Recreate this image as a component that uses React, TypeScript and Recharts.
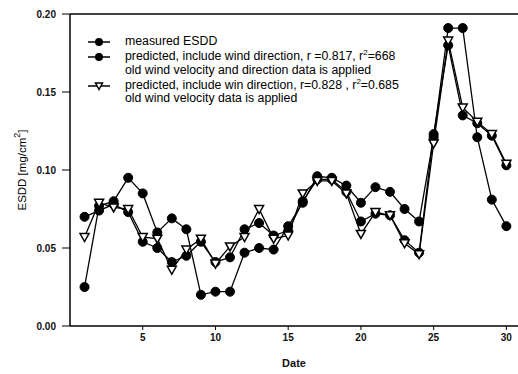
import { LineChart, Line, XAxis, YAxis, Legend, ReferenceLine } from 'recharts';

const dates = [1, 2, 3, 4, 5, 6, 7, 8, 9, 10, 11, 12, 13, 14, 15, 16, 17, 18, 19, 20, 21, 22, 23, 24, 25, 26, 27, 28, 29, 30];
const measured = [0.025, 0.077, 0.080, 0.095, 0.085, 0.060, 0.069, 0.062, 0.020, 0.022, 0.022, 0.047, 0.050, 0.049, 0.064, 0.079, 0.096, 0.095, 0.090, 0.079, 0.089, 0.086, 0.075, 0.067, 0.121, 0.191, 0.191, 0.121, 0.081, 0.064];
const predWithDir = [0.070, 0.074, 0.078, 0.073, 0.054, 0.050, 0.041, 0.045, 0.054, 0.041, 0.044, 0.062, 0.066, 0.058, 0.061, 0.080, 0.094, 0.094, 0.086, 0.067, 0.072, 0.071, 0.055, 0.047, 0.123, 0.180, 0.135, 0.130, 0.122, 0.103];
const predVelocity = [0.057, 0.079, 0.076, 0.075, 0.057, 0.056, 0.036, 0.049, 0.056, 0.040, 0.051, 0.057, 0.075, 0.056, 0.058, 0.085, 0.093, 0.093, 0.085, 0.059, 0.073, 0.071, 0.053, 0.046, 0.117, 0.183, 0.140, 0.131, 0.123, 0.104];
const xTicks = [5, 10, 15, 20, 25, 30];
const yTicks = [0, 0.05, 0.1, 0.15, 0.2];

const data = dates.map((d, i) => ({
  date: d,
  measured: measured[i],
  predWithDir: predWithDir[i],
  predVelocity: predVelocity[i],
}));

const FONT = '"Liberation Sans", Arial, sans-serif';

const CircleDot = (props: any) => {
  const { cx, cy } = props;
  if (cx == null || cy == null) return null;
  return <circle cx={cx} cy={cy} r={4.5} fill="#000" stroke="#000" />;
};

const TriangleDot = (props: any) => {
  const { cx, cy } = props;
  if (cx == null || cy == null) return null;
  return (
    <path
      d={`M${cx - 4.5},${cy - 3.5} L${cx + 4.5},${cy - 3.5} L${cx},${cy + 4.5} Z`}
      fill="#fff"
      stroke="#000"
      strokeWidth={1.5}
    />
  );
};

const Icon = ({ tri }: { tri?: boolean }) => (
  <svg width={22} height={12} style={{ flex: 'none', marginTop: 1 }}>
    <line x1={0} y1={6} x2={22} y2={6} stroke="#000" strokeWidth={1.5} />
    {tri ? (
      <path d="M7.5,3 L14.5,3 L11,9.5 Z" fill="#fff" stroke="#000" strokeWidth={1.5} />
    ) : (
      <circle cx={11} cy={6} r={4} fill="#000" />
    )}
  </svg>
);

const LegendBox = () => {
  const row = { display: 'flex', alignItems: 'flex-start', marginBottom: 1.5 };
  const txt = { marginLeft: 15, whiteSpace: 'nowrap' as const };
  return (
    <div style={{ fontFamily: FONT, fontSize: 12.3, lineHeight: '13.5px', color: '#000' }}>
      <div style={row}>
        <Icon />
        <span style={txt}>measured ESDD</span>
      </div>
      <div style={row}>
        <Icon />
        <span style={txt}>
          predicted, include wind direction, r =0.817, r<sup style={{ fontSize: 8, lineHeight: 0 }}>2</sup>=668
          <br />
          old wind velocity and direction data is applied
        </span>
      </div>
      <div style={row}>
        <Icon tri />
        <span style={txt}>
          predicted, include win direction, r=0.828 , r<sup style={{ fontSize: 8, lineHeight: 0 }}>2</sup>=0.685
          <br />
          old wind velocity data is applied
        </span>
      </div>
    </div>
  );
};

const YLabel = () => (
  <text
    x={22}
    y={170}
    transform="rotate(-90 22 170)"
    textAnchor="middle"
    dominantBaseline="central"
    fontFamily={FONT}
    fontSize={11.5}
    fill="#000"
  >
    ESDD [mg/cm
    <tspan dy={-5} fontSize={9}>2</tspan>
    <tspan dy={5}>]</tspan>
  </text>
);

export default function App() {
  const tick = { fontFamily: FONT, fontSize: 10, fontWeight: 'bold', fill: '#111' };
  return (
    <div style={{ position: 'absolute', left: 0, top: 0, width: 518, height: 374, overflow: 'hidden', background: '#fff' }}>
      <LineChart width={518} height={374} data={data} margin={{ top: 14, right: 0, bottom: 0, left: 0 }}>
        <XAxis
          type="number"
          dataKey="date"
          domain={[0, 30.8]}
          ticks={xTicks}
          allowDataOverflow
          height={48}
          tickSize={4}
          tickMargin={4}
          tick={tick}
          axisLine={{ stroke: '#000', strokeWidth: 1.5 }}
          tickLine={{ stroke: '#000' }}
          label={{ value: 'Date', position: 'insideBottom', offset: 7, style: { fontFamily: FONT, fontSize: 11, fontWeight: 'bold', fill: '#111' } }}
        />
        <YAxis
          type="number"
          domain={[0, 0.2]}
          ticks={yTicks}
          width={70}
          tickSize={8}
          tickMargin={6}
          tick={tick}
          tickFormatter={(v: number) => v.toFixed(2)}
          axisLine={{ stroke: '#000', strokeWidth: 1.5 }}
          tickLine={{ stroke: '#000' }}
          label={{ content: <YLabel /> }}
        />
        <ReferenceLine y={0.2} stroke="#000" strokeWidth={1.5} />
        <Legend
          layout="vertical"
          align="center"
          verticalAlign="middle"
          content={<LegendBox />}
          wrapperStyle={{ top: 35, left: 88, width: 'auto' }}
        />
        <Line dataKey="measured" stroke="#000" strokeWidth={1.3} dot={<CircleDot />} isAnimationActive={false} />
        <Line dataKey="predWithDir" stroke="#000" strokeWidth={1.3} dot={<CircleDot />} isAnimationActive={false} />
        <Line dataKey="predVelocity" stroke="#000" strokeWidth={1.3} dot={<TriangleDot />} isAnimationActive={false} />
      </LineChart>
    </div>
  );
}
